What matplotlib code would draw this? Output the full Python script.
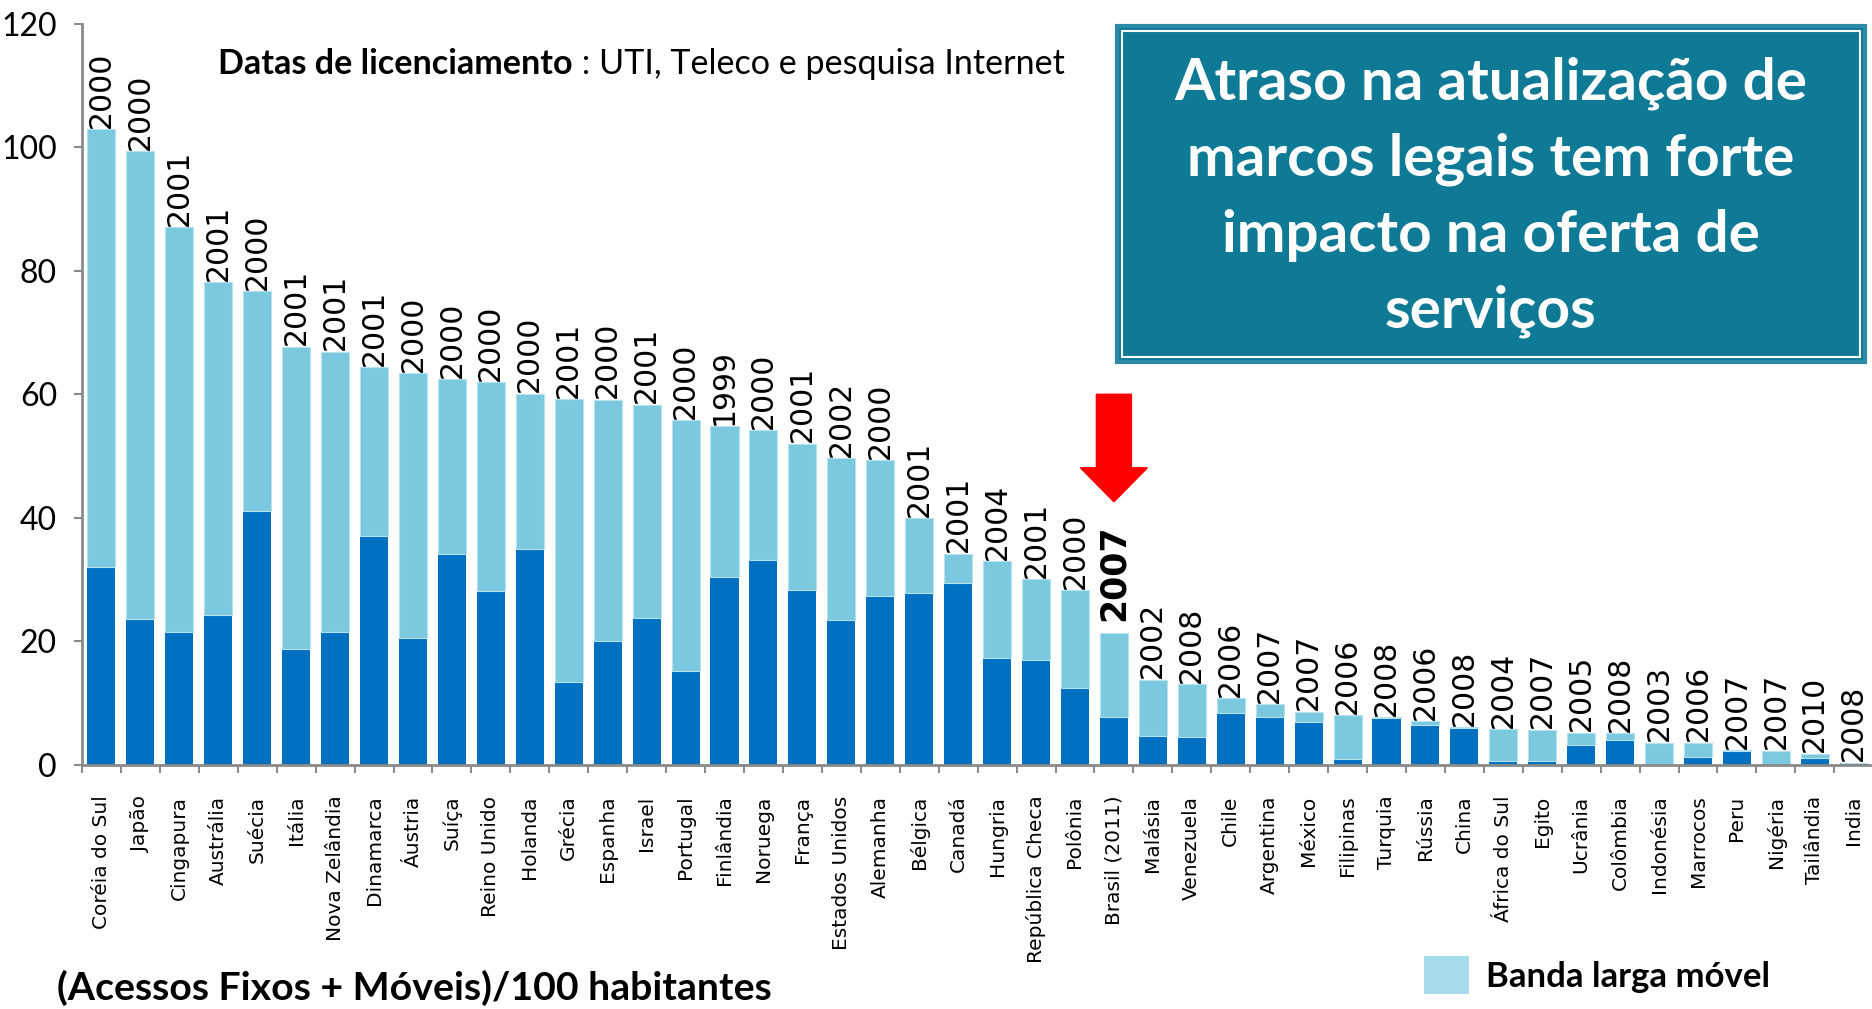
import matplotlib
matplotlib.use("Agg")
import matplotlib.pyplot as plt
from matplotlib.patches import FancyArrow, Rectangle, Patch
import numpy as np

countries = ["Coréia do Sul", "Japão", "Cingapura", "Austrália", "Suécia", "Itália",
             "Nova Zelândia", "Dinamarca", "Áustria", "Suíça", "Reino Unido", "Holanda",
             "Grécia", "Espanha", "Israel", "Portugal", "Finlândia", "Noruega", "França",
             "Estados Unidos", "Alemanha", "Bélgica", "Canadá", "Hungria", "República Checa",
             "Polônia", "Brasil (2011)", "Malásia", "Venezuela", "Chile", "Argentina",
             "México", "Filipinas", "Turquia", "Rússia", "China", "África do Sul", "Egito",
             "Ucrânia", "Colômbia", "Indonésia", "Marrocos", "Peru", "Nigéria", "Tailândia",
             "India"]

total = [102.9, 99.3, 87.0, 78.1, 76.7, 67.7, 66.9, 64.4, 63.4, 62.4, 62.0, 60.1,
         59.2, 59.1, 58.3, 55.8, 54.8, 54.2, 52.0, 49.7, 49.3, 39.9, 34.2, 33.0, 30.1,
         28.3, 21.3, 13.8, 13.1, 10.8, 9.8, 8.6, 8.1, 7.7, 7.1, 6.1, 5.8, 5.7,
         5.2, 5.1, 3.6, 3.6, 2.4, 2.3, 1.8, 0.4]

fixa = [32.0, 23.6, 21.5, 24.3, 41.1, 18.8, 21.5, 37.0, 20.6, 34.1, 28.1, 35.0,
        13.4, 20.1, 23.8, 15.2, 30.4, 33.2, 28.4, 23.4, 27.4, 27.8, 29.5, 17.3, 17.0,
        12.5, 7.8, 4.7, 4.5, 8.4, 7.8, 6.9, 1.0, 7.6, 6.5, 6.0, 0.7, 0.7,
        3.3, 4.1, 0.0, 1.35, 2.3, 0.0, 1.2, 0.3]

anos = ["2000", "2000", "2001", "2001", "2000", "2001", "2001", "2001", "2000", "2000",
        "2000", "2000", "2001", "2000", "2001", "2000", "1999", "2000", "2001", "2002",
        "2000", "2001", "2001", "2004", "2001", "2000", "2007", "2002", "2008", "2006",
        "2007", "2007", "2006", "2008", "2006", "2008", "2004", "2007", "2005", "2008",
        "2003", "2006", "2007", "2007", "2010", "2008"]

yticks = [0, 20, 40, 60, 80, 100, 120]

destaque = "Brasil (2011)"

NARROW = ["Lato", "DejaVu Sans"]
DARK = "#0070C0"
LIGHT = "#7AC9DF"
LEGEND_LIGHT = "#A6DCEA"
TEAL = "#0E7A96"
GRAY = "#8A8A8A"

W, H = 1872, 1009
fig = plt.figure(figsize=(W / 100, H / 100), dpi=100)

ax_left = 82 / W
ax_bottom = (H - 765) / H
ax_top = (H - 23.5) / H
ax = fig.add_axes([ax_left, ax_bottom, 46 * 38.94 / W, ax_top - ax_bottom])

x = np.arange(len(countries))
mobile = [t - f for t, f in zip(total, fixa)]
ax.bar(x, fixa, width=0.72, color=DARK, zorder=2)
ax.bar(x, mobile, bottom=fixa, width=0.72, color=LIGHT, edgecolor="#B5E2EE",
       linewidth=0.8, zorder=2)

ax.set_xlim(-0.5, len(countries) - 0.5)
ax.set_ylim(0, 120)

for sp in ["top", "right"]:
    ax.spines[sp].set_visible(False)
for sp in ["left", "bottom"]:
    ax.spines[sp].set_color(GRAY)
    ax.spines[sp].set_linewidth(2)

ax.set_yticks(yticks)
ax.set_yticklabels([str(v) for v in yticks], family=NARROW, fontsize=23)
ax.tick_params(axis="y", length=6, width=1.5, color=GRAY, pad=12)

ax.set_xticks(x)
ax.set_xticklabels(countries, rotation=90, fontsize=14.5, family="DejaVu Sans")
ax.set_xticks(np.arange(-0.5, len(countries), 1.0), minor=True)
ax.tick_params(axis="x", which="major", length=0, pad=22)
ax.tick_params(axis="x", which="minor", length=6, width=1.5, color=GRAY)

for i, (t, a, c) in enumerate(zip(total, anos, countries)):
    if c == destaque:
        ax.annotate(a, (i, t), xytext=(0, 9), textcoords="offset points",
                    rotation=90, ha="center", va="bottom", fontsize=25,
                    fontweight="bold", family="DejaVu Sans")
    else:
        ax.annotate(a, (i, t), xytext=(0, 1), textcoords="offset points",
                    rotation=90, ha="center", va="bottom", fontsize=21.5,
                    family="DejaVu Sans")

# red arrow over Brasil
ib = countries.index(destaque)
ax.add_patch(FancyArrow(ib, 60.0, 0, -(60.0 - 42.6), width=0.9, head_width=1.72,
                        head_length=5.5, length_includes_head=True,
                        color="#FF0000", zorder=4))

# subtitle text
t1 = fig.text(218 / W, 1 - 74 / H, "Datas de licenciamento", family=NARROW,
              fontsize=24.6, fontweight="bold", va="baseline", ha="left")
fig.canvas.draw()
ax.annotate(" : UTI, Teleco e pesquisa Internet", xy=(1, 0), xycoords=t1,
            va="bottom", ha="left", family=NARROW, fontsize=24.6,
            annotation_clip=False)

# teal box
bx0, by0, bx1, by1 = 1117, 26, 1865, 362
fig.patches.append(Rectangle((bx0 / W, 1 - by1 / H), (bx1 - bx0) / W, (by1 - by0) / H,
                             transform=fig.transFigure, facecolor=TEAL,
                             edgecolor="#2E8AA4", linewidth=3, zorder=5))
inset = 5
fig.patches.append(Rectangle(((bx0 + inset) / W, 1 - (by1 - inset) / H),
                             (bx1 - bx0 - 2 * inset) / W, (by1 - by0 - 2 * inset) / H,
                             transform=fig.transFigure, facecolor="none",
                             edgecolor="white", linewidth=1.5, zorder=6))
box_lines = ["Atraso na atualização de", "marcos legais tem forte",
             "impacto na oferta de", "serviços"]
for k, line in enumerate(box_lines):
    fig.text((bx0 + bx1) / 2 / W, 1 - (100 + 76 * k) / H, line, color="white",
             family=NARROW, fontsize=42, fontweight="bold", ha="center",
             va="baseline", zorder=7)

# bottom caption
fig.text(57 / W, 1 - 1000 / H, "(Acessos Fixos + Móveis)/100 habitantes",
         family=NARROW, fontsize=28.3, fontweight="bold", ha="left", va="baseline")

# legend
fig.legend(handles=[Patch(facecolor=LEGEND_LIGHT, label="Banda larga móvel")],
           loc="center left", bbox_to_anchor=(1424 / W, 1 - 975 / H),
           frameon=False, borderpad=0, borderaxespad=0, handlelength=1.3,
           handleheight=1.3, handletextpad=0.5,
           prop={"family": NARROW, "size": 25, "weight": "bold"})

fig.savefig("out.png", dpi=100)
